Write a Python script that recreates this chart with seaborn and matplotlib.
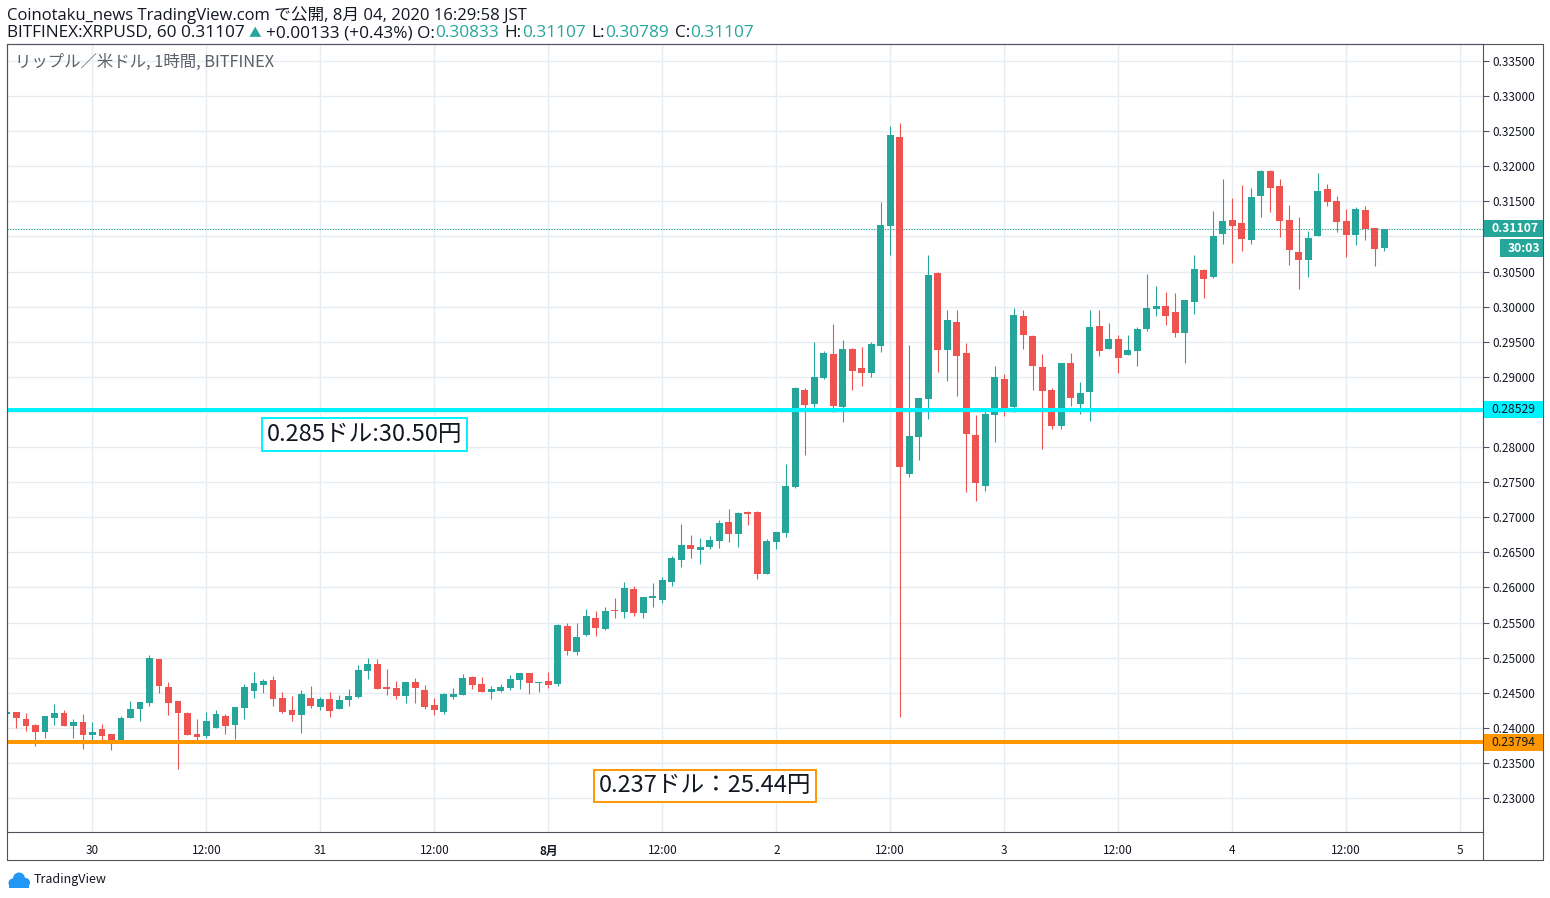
import numpy as np
import pandas as pd
import matplotlib
matplotlib.use("Agg")
import matplotlib.pyplot as plt
import matplotlib.patches as mpatches
import matplotlib.transforms as mtransforms
from matplotlib.lines import Line2D
from matplotlib.ticker import FuncFormatter
import seaborn as sns

# ── Data: XRP/USD hourly candles, Jul 29 15:00 -> Aug 4 16:00 ──────────
opens = [0.24197, 0.24221, 0.24121, 0.24036, 0.23941, 0.24140, 0.24207, 0.24026, 0.24078, 0.23898,
         0.23979, 0.23907, 0.23822, 0.24135, 0.24264, 0.24354, 0.24986, 0.24587, 0.24378, 0.24207,
         0.23907, 0.23884, 0.23998, 0.24164, 0.24040, 0.24283, 0.24525, 0.24610, 0.24677, 0.24425,
         0.24250, 0.24183, 0.24420, 0.24297, 0.24406, 0.24268, 0.24392, 0.24435, 0.24805, 0.24905,
         0.24577, 0.24563, 0.24449, 0.24648, 0.24534, 0.24326, 0.24226, 0.24440, 0.24468, 0.24724,
         0.24625, 0.24511, 0.24525, 0.24568, 0.24682, 0.24782, 0.24640, 0.24667, 0.24629, 0.25452,
         0.25081, 0.25323, 0.25565, 0.25410, 0.25684, 0.25651, 0.25979, 0.25637, 0.25850, 0.25822,
         0.26078, 0.26392, 0.26606, 0.26535, 0.26577, 0.26666, 0.26932, 0.26761, 0.27075, 0.27075,
         0.26191, 0.26647, 0.26775, 0.27431, 0.28813, 0.28614, 0.28984, 0.29326, 0.28571, 0.29396,
         0.29126, 0.29054, 0.29439, 0.31149, 0.32417, 0.27620, 0.28143, 0.28684, 0.30479, 0.29382,
         0.29781, 0.29340, 0.28171, 0.27444, 0.28456, 0.28969, 0.28570, 0.29867, 0.29582, 0.29140,
         0.28812, 0.28300, 0.29197, 0.28613, 0.28784, 0.29724, 0.29397, 0.29539, 0.29311, 0.29368,
         0.29682, 0.29967, 0.30010, 0.29924, 0.29625, 0.30067, 0.30523, 0.30423, 0.31036, 0.31235,
         0.31192, 0.30950, 0.31577, 0.31933, 0.31720, 0.31235, 0.30779, 0.30665, 0.31007, 0.31677,
         0.31506, 0.31221, 0.31021, 0.31378, 0.31121, 0.30833]
highs = [0.24402, 0.24230, 0.24207, 0.24060, 0.24164, 0.24335, 0.24250, 0.24121, 0.24192, 0.24078,
         0.24050, 0.23907, 0.24164, 0.24378, 0.24363, 0.25043, 0.24986, 0.24658, 0.24378, 0.24220,
         0.24121, 0.24220, 0.24250, 0.24192, 0.24292, 0.24620, 0.24791, 0.24691, 0.24734, 0.24506,
         0.24454, 0.24534, 0.24591, 0.24435, 0.24506, 0.24463, 0.24549, 0.24891, 0.25000, 0.24976,
         0.24834, 0.24663, 0.24648, 0.24705, 0.24606, 0.24426, 0.24497, 0.24568, 0.24767, 0.24739,
         0.24724, 0.24597, 0.24625, 0.24753, 0.24782, 0.24782, 0.24654, 0.24796, 0.25480, 0.25494,
         0.25490, 0.25694, 0.25665, 0.25722, 0.25850, 0.26078, 0.26022, 0.25865, 0.26064, 0.26150,
         0.26449, 0.26905, 0.26748, 0.26705, 0.26734, 0.26961, 0.27118, 0.27075, 0.27090, 0.27090,
         0.26691, 0.26790, 0.27759, 0.28860, 0.28842, 0.29497, 0.29369, 0.29754, 0.29526, 0.29410,
         0.29425, 0.29500, 0.31491, 0.32574, 0.32617, 0.29453, 0.28698, 0.30736, 0.30493, 0.29952,
         0.29952, 0.29482, 0.28456, 0.28555, 0.29154, 0.29040, 0.29981, 0.29952, 0.29596, 0.29325,
         0.28840, 0.29197, 0.29340, 0.28926, 0.29952, 0.29952, 0.29767, 0.29596, 0.29596, 0.29710,
         0.30466, 0.30295, 0.30209, 0.30195, 0.30095, 0.30736, 0.30537, 0.31363, 0.31820, 0.31549,
         0.31734, 0.31691, 0.31948, 0.31948, 0.31820, 0.31449, 0.31278, 0.31079, 0.31905, 0.31748,
         0.31577, 0.31392, 0.31420, 0.31435, 0.31121, 0.31107]
lows = [0.24098, 0.23998, 0.23955, 0.23741, 0.23855, 0.24040, 0.24026, 0.23855, 0.23698, 0.23822,
        0.23822, 0.23684, 0.23822, 0.24135, 0.24098, 0.24306, 0.24496, 0.24183, 0.23413, 0.23898,
        0.23822, 0.23855, 0.23998, 0.23912, 0.23841, 0.24126, 0.24425, 0.24496, 0.24311, 0.24211,
        0.24097, 0.23926, 0.24283, 0.24254, 0.24154, 0.24268, 0.24311, 0.24421, 0.24691, 0.24549,
        0.24463, 0.24406, 0.24349, 0.24349, 0.24264, 0.24183, 0.24198, 0.24411, 0.24468, 0.24554,
        0.24511, 0.24411, 0.24511, 0.24540, 0.24554, 0.24483, 0.24511, 0.24568, 0.24597, 0.25038,
        0.25043, 0.25309, 0.25309, 0.25395, 0.25565, 0.25565, 0.25594, 0.25565, 0.25722, 0.25779,
        0.26022, 0.26292, 0.26420, 0.26335, 0.26549, 0.26561, 0.26647, 0.26576, 0.26889, 0.26120,
        0.26191, 0.26547, 0.26718, 0.27420, 0.27887, 0.28571, 0.28970, 0.28500, 0.28357, 0.28812,
        0.28869, 0.28997, 0.29354, 0.30736, 0.24155, 0.27577, 0.27820, 0.28400, 0.29069, 0.28940,
        0.28727, 0.27359, 0.27231, 0.27373, 0.28071, 0.28442, 0.28499, 0.29397, 0.28812, 0.27972,
        0.28257, 0.28257, 0.28584, 0.28470, 0.28371, 0.29297, 0.29397, 0.29055, 0.29311, 0.29155,
        0.29653, 0.29867, 0.29739, 0.29568, 0.29197, 0.29896, 0.30124, 0.30409, 0.30893, 0.30622,
        0.30793, 0.30893, 0.31278, 0.31349, 0.30993, 0.30594, 0.30252, 0.30423, 0.31007, 0.31435,
        0.31064, 0.30708, 0.30879, 0.30950, 0.30580, 0.30789]
closes = [0.24221, 0.24140, 0.24026, 0.23941, 0.24164, 0.24207, 0.24026, 0.24078, 0.23898, 0.23936,
          0.23879, 0.23822, 0.24135, 0.24264, 0.24363, 0.25000, 0.24596, 0.24354, 0.24211, 0.23898,
          0.23870, 0.24093, 0.24192, 0.24026, 0.24292, 0.24577, 0.24634, 0.24663, 0.24411, 0.24226,
          0.24183, 0.24477, 0.24311, 0.24406, 0.24240, 0.24392, 0.24449, 0.24820, 0.24905, 0.24549,
          0.24549, 0.24449, 0.24648, 0.24563, 0.24292, 0.24255, 0.24483, 0.24483, 0.24710, 0.24611,
          0.24511, 0.24554, 0.24582, 0.24696, 0.24782, 0.24640, 0.24654, 0.24611, 0.25466, 0.25100,
          0.25295, 0.25594, 0.25428, 0.25665, 0.25670, 0.25993, 0.25637, 0.25865, 0.25879, 0.26107,
          0.26420, 0.26606, 0.26549, 0.26577, 0.26677, 0.26918, 0.26761, 0.27061, 0.27046, 0.26191,
          0.26662, 0.26790, 0.27445, 0.28842, 0.28600, 0.28998, 0.29340, 0.28585, 0.29397, 0.29083,
          0.29054, 0.29467, 0.31163, 0.32446, 0.27720, 0.28157, 0.28698, 0.30451, 0.29382, 0.29810,
          0.29297, 0.28185, 0.27487, 0.28470, 0.28998, 0.28542, 0.29881, 0.29596, 0.29154, 0.28798,
          0.28300, 0.29197, 0.28698, 0.28770, 0.29710, 0.29368, 0.29539, 0.29268, 0.29383, 0.29682,
          0.29981, 0.30010, 0.29867, 0.29625, 0.30095, 0.30537, 0.30394, 0.31007, 0.31221, 0.31150,
          0.30964, 0.31563, 0.31933, 0.31691, 0.31221, 0.30808, 0.30665, 0.30979, 0.31648, 0.31492,
          0.31207, 0.31021, 0.31392, 0.31107, 0.30822, 0.31107]

tick_hours = [9, 21, 33, 45, 57, 69, 81, 93, 105, 117, 129, 141, 153]
tick_labels = ["30", "12:00", "31", "12:00", "8月", "12:00", "2", "12:00",
               "3", "12:00", "4", "12:00", "5"]
price_ticks = [0.230, 0.235, 0.240, 0.245, 0.250, 0.255, 0.260, 0.265, 0.270, 0.275, 0.280,
               0.285, 0.290, 0.295, 0.300, 0.305, 0.310, 0.315, 0.320, 0.325, 0.330, 0.335]
hidden_ticks = [0.285, 0.310]          # covered by price tags in the original
last_price = 0.31107
level_hi = 0.28529
level_lo = 0.23794

# ── Setup ──────────────────────────────────────────────
sns.set_theme(style="white")
plt.rcParams["font.family"] = ["Noto Sans CJK JP", "DejaVu Sans"]
HEAD_FONT = ["Open Sans", "Noto Sans CJK JP", "DejaVu Sans"]

UP, DOWN = "#26a69a", "#ef5350"
CYAN, ORANGE = "#00f2ff", "#ff9800"
DARK, FRAME, GRID = "#131722", "#50535e", "#e6edf2"

df = pd.DataFrame({"open": opens, "high": highs, "low": lows, "close": closes})
df["hour"] = np.arange(len(df))
df["color"] = np.where(df["close"] >= df["open"], UP, DOWN)
df["body_lo"] = df[["open", "close"]].min(axis=1)
df["body_h"] = (df["close"] - df["open"]).abs().clip(lower=0.00012)

W, H = 1550, 898
L, R, T, B = 6.5, 1483, 44, 832
fig = plt.figure(figsize=(W / 100, H / 100), dpi=100)
fig.patch.set_facecolor("white")
ax = fig.add_axes([L / W, 1 - B / H, (R - L) / W, (B - T) / H])

# ── Candles ──────────────────────────────────────────────
ax.vlines(df["hour"], df["low"], df["high"], colors=df["color"], linewidth=0.8, zorder=3)
ax.bar(df["hour"], df["body_h"], bottom=df["body_lo"], width=0.72,
       color=df["color"], linewidth=0, zorder=4)

ax.axhline(last_price, color=UP, linestyle=(0, (1.2, 1.2)), linewidth=0.8, zorder=2)
ax.axhline(level_hi, color=CYAN, linewidth=2.9, zorder=5)
ax.axhline(level_lo, color=ORANGE, linewidth=2.9, zorder=5)

ax.text(27.36, 0.2818, "0.285ドル:30.50円", fontsize=17, color=DARK, va="center", ha="left",
        zorder=6, bbox=dict(boxstyle="square,pad=0.2", fc="white", ec=CYAN, lw=1.4))
ax.text(62.3, 0.23175, "0.237ドル：25.44円", fontsize=17, color=DARK, va="center", ha="left",
        zorder=6, bbox=dict(boxstyle="square,pad=0.2", fc="white", ec=ORANGE, lw=1.4))

ax.text(0.006, 0.976, "リップル／米ドル, 1時間, BITFINEX", transform=ax.transAxes,
        fontsize=11.8, color="#5d606b", va="center", ha="left")

# ── Axes styling ─────────────────────────────────────────
ax.set_xlim(-0.05, 155.4)
ax.set_ylim(0.22516, 0.33742)
ax.set_xticks(tick_hours)
ax.set_xticklabels(tick_labels)
for lab in ax.get_xticklabels():
    if lab.get_text() == "8月":
        lab.set_fontweight("bold")
ax.set_yticks(price_ticks)
ax.yaxis.set_major_formatter(FuncFormatter(
    lambda v, _: "" if any(abs(v - h) < 1e-6 for h in hidden_ticks) else f"{v:.5f}"))
ax.yaxis.tick_right()
ax.grid(True, color=GRID, linewidth=1)
ax.set_axisbelow(True)
ax.tick_params(axis="y", length=4, width=0.8, color=FRAME, labelsize=8.5,
               labelcolor=DARK, pad=3)
ax.tick_params(axis="x", length=3, width=0.8, color=FRAME, labelsize=8.5,
               labelcolor=DARK, pad=6)
for s in ax.spines.values():
    s.set_color(FRAME)
    s.set_linewidth(0.8)

# ── Frame around price / time scales ─────────────────────
ident = mtransforms.IdentityTransform()
def px_line(x0, y0, x1, y1):
    fig.add_artist(Line2D([x0, x1], [H - y0, H - y1], color=FRAME, lw=0.8, transform=ident))

px_line(6.5, 44, 1543, 44)
px_line(1543, 44, 1543, 860)
px_line(6.5, 860, 1543, 860)
px_line(6.5, 44, 6.5, 860)
px_line(1483, 832, 1483, 860)

# ── Price tags on the right scale ───────────────────────
def tag(price, label, fc, tc, x0=1483.5, x1=1543, h=17, dy=0, bold=False):
    yc = ax.transData.transform((0, price))[1] - dy
    fig.add_artist(mpatches.Rectangle((x0, yc - h / 2), x1 - x0, h, facecolor=fc,
                                      edgecolor="none", transform=ident, zorder=5))
    fig.text(x0 + 8, yc, label, color=tc, fontsize=8.8, va="center", ha="left",
             transform=ident, zorder=6, fontweight="bold" if bold else "normal")

tag(last_price, "0.31107", UP, "white", bold=True)
tag(last_price, "30:03", UP, "white", x0=1500, h=18, dy=19.5, bold=True)
tag(level_hi, "0.28529", CYAN, DARK)
tag(level_lo, "0.23794", ORANGE, DARK)

# ── Header ───────────────────────────────────────────────
renderer = fig.canvas.get_renderer()
def text_run(x, y, parts, size):
    for s, c, gap, fs in parts:
        t = fig.text(x, H - y, s, color=c, fontsize=fs or size, va="baseline",
                     ha="left", transform=ident, family=HEAD_FONT)
        x += t.get_window_extent(renderer).width + gap

text_run(7, 20, [("Coinotaku_news TradingView.com で公開, 8月 04, 2020 16:29:58 JST", DARK, 0, None)],
         size=12)
text_run(7, 37, [("BITFINEX:XRPUSD, 60 0.31107", DARK, 4, None), ("▲", UP, 5, 9),
                 ("+0.00133 (+0.43%) O:", DARK, 0, None), ("0.30833", UP, 6, None),
                 ("H:", DARK, 0, None), ("0.31107", UP, 6, None),
                 ("L:", DARK, 0, None), ("0.30789", UP, 6, None),
                 ("C:", DARK, 0, None), ("0.31107", UP, 0, None)], size=12.4)

# ── Footer logo ──────────────────────────────────────────
BLUE = "#2196f3"
for cx, cy, r in [(13, 883, 4.5), (19, 878.5, 6), (25.5, 882.5, 4.5)]:
    fig.add_artist(mpatches.Circle((cx, H - cy), r, color=BLUE, transform=ident, lw=0))
fig.add_artist(mpatches.Rectangle((9, H - 887.5), 20, 5, color=BLUE, transform=ident, lw=0))
fig.text(34, H - 880, "TradingView", color=DARK, fontsize=9, va="center", ha="left",
         transform=ident)

fig.savefig("out.png", dpi=100)
print("saved out.png")
